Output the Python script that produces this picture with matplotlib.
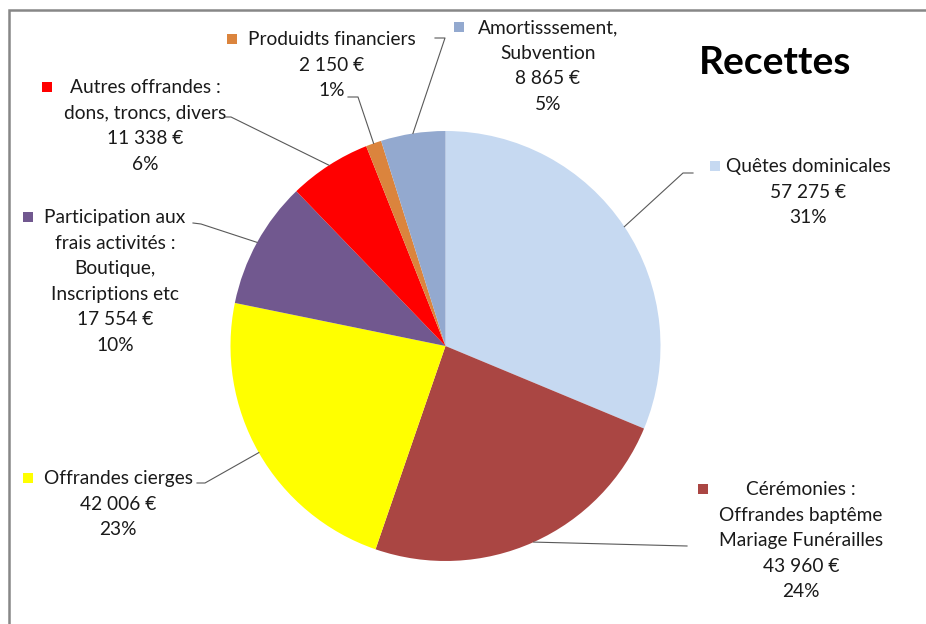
import numpy as np
import matplotlib.pyplot as plt

plt.rcParams['font.family'] = ['Lato', 'DejaVu Sans']

# donnees
categories = ["Quêtes dominicales", "Cérémonies", "Offrandes cierges",
              "Participation", "Autres offrandes", "Produidts financiers",
              "Amortissement"]
montants = [57275, 43960, 42006, 17554, 11338, 2150, 8865]
pourcents = ["31%", "24%", "23%", "10%", "6%", "1%", "5%"]
montants_txt = ["57 275 €", "43 960 €", "42 006 €", "17 554 €",
                "11 338 €", "2 150 €", "8 865 €"]
libelles = [
    ["Quêtes dominicales"],
    ["Cérémonies :", "Offrandes baptême", "Mariage Funérailles"],
    ["Offrandes cierges"],
    ["Participation aux", "frais activités :", "Boutique,", "Inscriptions etc"],
    ["Autres offrandes :", "dons, troncs, divers"],
    ["Produidts financiers"],
    ["Amortisssement,", "Subvention"],
]
couleurs = ["#C6D9F1", "#AA4643", "#FFFF00", "#71588F", "#FF0000",
            "#DB843D", "#93A9CF"]

W, H = 926, 624
# mise en page en pixels (x, y depuis le haut)
centre = (445.5, 346)
rayon = 215
texte_pos = [(808, 166), (801, 489), (118, 478), (115, 217),
             (145, 87), (332, 39), (548, 27)]
carre_pos = [(715, 166), (703, 489), (28, 478), (28, 217),
             (47, 87), (232, 39), (459, 27)]
trait_fin = [(693, 173), (687, 546), (197, 483), (193, 223),
             (225, 117), (348, 97), (435, 38)]
trait_coude = [(683, 173), None, (205, 483), (201, 224),
               (231, 117), (358, 97), (445, 38)]
pas = 25.6
taille = 13.8


def Y(y):
    return H - y


fig = plt.figure(figsize=(W / 100, H / 100), dpi=100)
ax = fig.add_axes([0, 0, 1, 1])

wedges, _ = ax.pie(montants, colors=couleurs, startangle=90, counterclock=False,
                   center=(centre[0], Y(centre[1])), radius=rayon,
                   wedgeprops=dict(linewidth=0))

ax.set_xlim(0, W)
ax.set_ylim(0, H)
ax.set_aspect('equal')
ax.axis('off')

for i, w in enumerate(wedges):
    ang = np.deg2rad((w.theta1 + w.theta2) / 2)
    x0 = centre[0] + rayon * np.cos(ang)
    y0 = Y(centre[1]) + rayon * np.sin(ang)
    pts = [(x0, y0)]
    if trait_coude[i] is not None:
        pts.append((trait_coude[i][0], Y(trait_coude[i][1])))
    pts.append((trait_fin[i][0], Y(trait_fin[i][1])))
    xs, ys = zip(*pts)
    ax.plot(xs, ys, color="#595959", lw=0.8)

    lignes = libelles[i] + [montants_txt[i], pourcents[i]]
    tx, ty = texte_pos[i]
    for k, l in enumerate(lignes):
        ax.text(tx, Y(ty + k * pas + 6), l, ha='center', va='baseline',
                fontsize=taille, color="#1a1a1a")
    ax.plot(carre_pos[i][0], Y(carre_pos[i][1]), marker='s', ms=6.5,
            color=couleurs[i], mew=0)

ax.text(775, Y(74), "Recettes", ha='center', va='baseline',
        fontsize=28, fontweight='bold', color='black')

# cadre
ax.plot([8.5, 8.5, W], [0, Y(9.5), Y(9.5)], color="#878787", lw=1.8,
        solid_joinstyle='miter')

fig.savefig("out.png", dpi=100)
